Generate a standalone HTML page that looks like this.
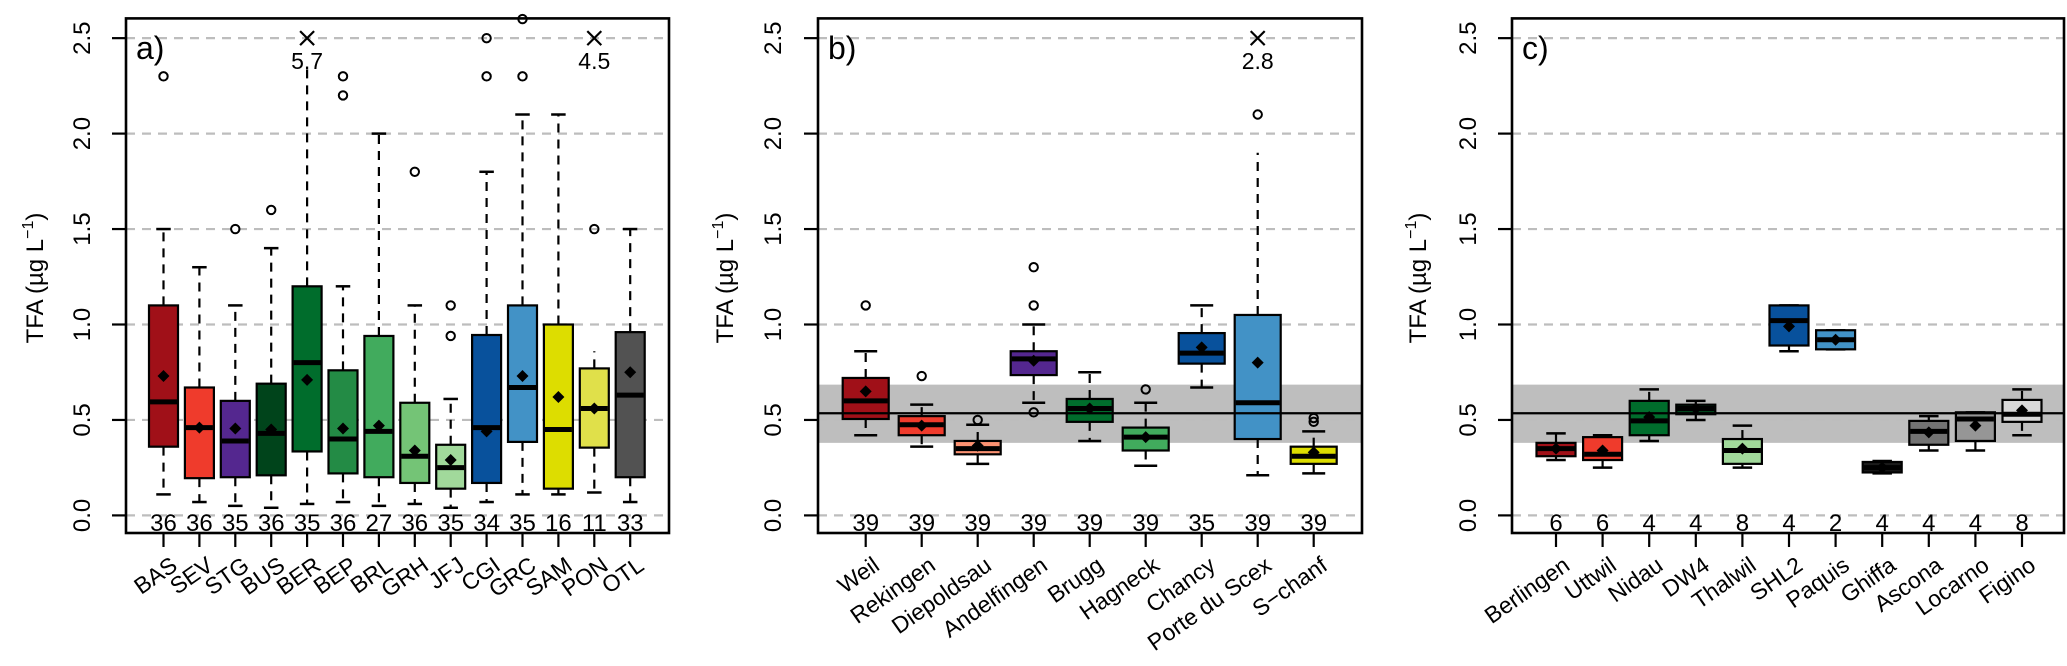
<!DOCTYPE html>
<html><head><meta charset="utf-8">
<style>
html,body{margin:0;padding:0;background:#fff;}
svg{display:block;font-family:"Liberation Sans",Arial,sans-serif;}
</style></head>
<body>
<svg id="chart" width="2067" height="666" viewBox="0 0 2067 666" xmlns="http://www.w3.org/2000/svg"></svg>
<script>
// ---------- Panel a data ----------
const aCats = ["BAS","SEV","STG","BUS","BER","BEP","BRL","GRH","JFJ","CGI","GRC","SAM","PON","OTL"];
const aLo   = [0.11,0.07,0.05,0.04,0.06,0.07,0.05,0.06,0.04,0.07,0.11,0.11,0.12,0.07];
const aQ1   = [0.36,0.195,0.20,0.21,0.335,0.22,0.20,0.17,0.14,0.17,0.385,0.14,0.355,0.20];
const aMed  = [0.595,0.46,0.39,0.43,0.80,0.40,0.44,0.31,0.25,0.46,0.67,0.45,0.56,0.63];
const aQ3   = [1.10,0.67,0.60,0.69,1.20,0.76,0.94,0.59,0.37,0.945,1.10,1.00,0.77,0.96];
const aHi   = [1.5,1.3,1.1,1.4,2.34,1.2,2.0,1.1,0.61,1.8,2.1,2.1,0.86,1.5];
const aMean = [0.73,0.46,0.455,0.45,0.71,0.455,0.47,0.34,0.29,0.44,0.73,0.62,0.56,0.75];
const aOut  = [[2.3],[],[1.5],[1.6],[],[2.3,2.2],[],[1.8],[1.1,0.94],[2.3,2.5],[2.3,2.6],[],[1.5],[]];
const aOff  = [null,null,null,null,"5.7",null,null,null,null,null,null,null,"4.5",null];
const aN    = [36,36,35,36,35,36,27,36,35,34,35,16,11,33];
const aCol  = ["#a01018","#ef3b2c","#54278f","#00441b","#006d2c","#238b45","#41ab5d","#74c476","#a1d99b","#08519c","#4292c6","#dddd00","#e0e04a","#525252"];

// ---------- Panel b data ----------
const bCats = ["Weil","Rekingen","Diepoldsau","Andelfingen","Brugg","Hagneck","Chancy","Porte du Scex","S\u2212chanf"];
const bLo   = [0.42,0.36,0.27,0.59,0.39,0.26,0.67,0.21,0.22];
const bQ1   = [0.505,0.42,0.32,0.735,0.49,0.34,0.795,0.40,0.27];
const bMed  = [0.60,0.475,0.35,0.82,0.56,0.41,0.85,0.59,0.31];
const bQ3   = [0.72,0.52,0.39,0.86,0.61,0.46,0.955,1.05,0.36];
const bHi   = [0.86,0.58,0.475,1.0,0.75,0.59,1.1,1.9,0.44];
const bMean = [0.65,0.47,0.365,0.81,0.56,0.41,0.88,0.80,0.33];
const bOut  = [[1.1],[0.73],[0.5],[1.1,1.3,0.54],[],[0.66],[],[2.1],[0.49,0.51]];
const bOff  = [null,null,null,null,null,null,null,"2.8",null];
const bN    = [39,39,39,39,39,39,35,39,39];
const bCol  = ["#a01018","#ef3b2c","#fc9272","#54278f","#006d2c","#41ab5d","#08519c","#4292c6","#dddd00"];

// ---------- Panel c data ----------
const cCats = ["Berlingen","Uttwil","Nidau","DW4","Thalwil","SHL2","Paquis","Ghiffa","Ascona","Locarno","Figino"];
const cLo   = [0.29,0.25,0.39,0.50,0.25,0.86,0.87,0.22,0.34,0.34,0.42];
const cQ1   = [0.31,0.29,0.42,0.53,0.27,0.89,0.87,0.225,0.37,0.39,0.49];
const cMed  = [0.35,0.32,0.495,0.56,0.34,1.02,0.92,0.25,0.44,0.505,0.53];
const cQ3   = [0.38,0.41,0.60,0.58,0.40,1.10,0.97,0.28,0.495,0.54,0.605];
const cHi   = [0.43,0.42,0.66,0.60,0.47,1.10,0.97,0.285,0.52,0.54,0.66];
const cMean = [0.35,0.34,0.515,0.56,0.35,0.99,0.92,0.25,0.435,0.47,0.55];
const cOut  = [[],[],[],[],[],[],[],[],[],[],[]];
const cOff  = [null,null,null,null,null,null,null,null,null,null,null];
const cN    = [6,6,4,4,8,4,2,4,4,4,8];
const cCol  = ["#a01018","#ef3b2c","#006d2c","#00441b","#a1d99b","#08519c","#4292c6","#1a1a1a","#737373","#969696","#d9d9d9"];

const yTicks = [0.0,0.5,1.0,1.5,2.0,2.5];
const yTickLabels = ["0.0","0.5","1.0","1.5","2.0","2.5"];
const bandLo = 0.38, bandHi = 0.685, refLine = 0.535;

const NS = "http://www.w3.org/2000/svg";
const svg = document.getElementById("chart");
function mk(tag, attrs, parent){
  const e = document.createElementNS(NS, tag);
  for (const k in attrs) e.setAttribute(k, attrs[k]);
  (parent||svg).appendChild(e);
  return e;
}
function yScale(v){ return 515.4 - v*190.9; }

function panel(p){
  const g = mk("g", {});
  
  
  const xScale = i => p.x0 + i*p.dx;
  const top = 18.4, bot = 533;

  if (p.band){
    const band = mk("rect",{x:p.left, y:yScale(bandHi), width:p.right-p.left, height:yScale(bandLo)-yScale(bandHi), fill:"#bebebe"}, g);
    
    
  }
  // grid
  yTicks.forEach((t,k)=>{
    const gl = mk("line",{x1:p.left, x2:p.right, y1:yScale(t), y2:yScale(t), stroke:"#bdbdbd", "stroke-width":2.2, "stroke-dasharray":"9,7"}, g);
    
    
  });
  // boxes
  p.cats.forEach((c,i)=>{
    const x = xScale(i), hw = p.bw/2, cw = p.bw/4;
    const bg = mk("g",{}, g);
    
    
    const hiTop = p.hi[i];
    mk("line",{x1:x,x2:x,y1:yScale(p.q3[i]),y2:yScale(hiTop),stroke:"#000","stroke-width":2.2,"stroke-dasharray":"9,7"},bg);
    mk("line",{x1:x,x2:x,y1:yScale(p.q1[i]),y2:yScale(p.lo[i]),stroke:"#000","stroke-width":2.2,"stroke-dasharray":"9,7"},bg);
    if (!p.off[i]) mk("line",{x1:x-cw,x2:x+cw,y1:yScale(hiTop),y2:yScale(hiTop),stroke:"#000","stroke-width":2.5},bg);
    mk("line",{x1:x-cw,x2:x+cw,y1:yScale(p.lo[i]),y2:yScale(p.lo[i]),stroke:"#000","stroke-width":2.5},bg);
    mk("rect",{x:x-hw,y:yScale(p.q3[i]),width:p.bw,height:Math.max(1,yScale(p.q1[i])-yScale(p.q3[i])),fill:p.col[i],stroke:"#000","stroke-width":2.2},bg);
    mk("line",{x1:x-hw+1,x2:x+hw-1,y1:yScale(p.med[i]),y2:yScale(p.med[i]),stroke:"#000","stroke-width":5},bg);
    const my = yScale(p.mean[i]);
    const dm = mk("polygon",{points:`${x},${my-6} ${x+6},${my} ${x},${my+6} ${x-6},${my}`,fill:"#000"},bg);
    
    
    p.out[i].forEach(o=>{
      const oc = mk("circle",{cx:x,cy:yScale(o),r:4.2,fill:"none",stroke:"#000","stroke-width":2},bg);
      
      
    });
    if (p.off[i]){
      const yy = yScale(2.5);
      mk("path",{d:`M${x-7},${yy-7}L${x+7},${yy+7}M${x+7},${yy-7}L${x-7},${yy+7}`,stroke:"#000","stroke-width":2.2},bg);
      const ot = mk("text",{x:x,y:yy+31,"text-anchor":"middle","font-size":23,fill:"#000"},bg);
      ot.textContent = p.off[i];
      
      
    }
    const nt = mk("text",{x:x,y:531,"text-anchor":"middle","font-size":24,fill:"#000"},g);
    nt.textContent = p.n[i];
    
    
    mk("line",{x1:x,x2:x,y1:bot,y2:bot+14,stroke:"#000","stroke-width":2.2},g);
    const xl = mk("text",{transform:`translate(${x+5},${bot+21}) rotate(-35)`,"text-anchor":"end",dy:"0.78em","font-size":23,fill:"#000"},g);
    xl.textContent = c;
    
    
  });
  if (p.band){
    const rl = mk("line",{x1:p.left,x2:p.right,y1:yScale(refLine),y2:yScale(refLine),stroke:"#000","stroke-width":2.2},g);
    
    
  }
  // frame
  const fr = mk("rect",{x:p.left,y:top,width:p.right-p.left,height:bot-top,fill:"none",stroke:"#000","stroke-width":2.6},g);
  
  
  // y axis
  yTicks.forEach((t,k)=>{
    mk("line",{x1:p.left-14,x2:p.left,y1:yScale(t),y2:yScale(t),stroke:"#000","stroke-width":2.2},g);
    const tl = mk("text",{transform:`translate(${p.tickX},${yScale(t)}) rotate(-90)`,"text-anchor":"middle","font-size":24,fill:"#000"},g);
    tl.textContent = yTickLabels[k];
    
    
  });
  const yt = mk("text",{transform:`translate(${p.titleX},278) rotate(-90)`,"text-anchor":"middle","font-size":24,fill:"#000"},g);
  
  
  yt.appendChild(document.createTextNode("TFA (\u00b5g L"));
  const sup = mk("tspan",{"font-size":16,dy:-10},yt); sup.textContent = "\u22121";
  const cl = mk("tspan",{dy:10},yt); cl.textContent = ")";
  const pl = mk("text",{x:p.left+10,y:59,"font-size":32,fill:"#000"},g);
  pl.textContent = p.id + ")";
  
  
}

panel({id:"a",left:126,right:669,x0:163.5,dx:35.9,bw:29,tickX:90,titleX:43,band:false,
  cats:aCats,lo:aLo,q1:aQ1,med:aMed,q3:aQ3,hi:aHi,mean:aMean,out:aOut,off:aOff,n:aN,col:aCol});
panel({id:"b",left:818,right:1362,x0:865.7,dx:56,bw:46,tickX:781,titleX:733,band:true,
  cats:bCats,lo:bLo,q1:bQ1,med:bMed,q3:bQ3,hi:bHi,mean:bMean,out:bOut,off:bOff,n:bN,col:bCol});
panel({id:"c",left:1512,right:2064,x0:1556,dx:46.6,bw:39,tickX:1476,titleX:1426,band:true,
  cats:cCats,lo:cLo,q1:cQ1,med:cMed,q3:cQ3,hi:cHi,mean:cMean,out:cOut,off:cOff,n:cN,col:cCol});
</script>
</body></html>
